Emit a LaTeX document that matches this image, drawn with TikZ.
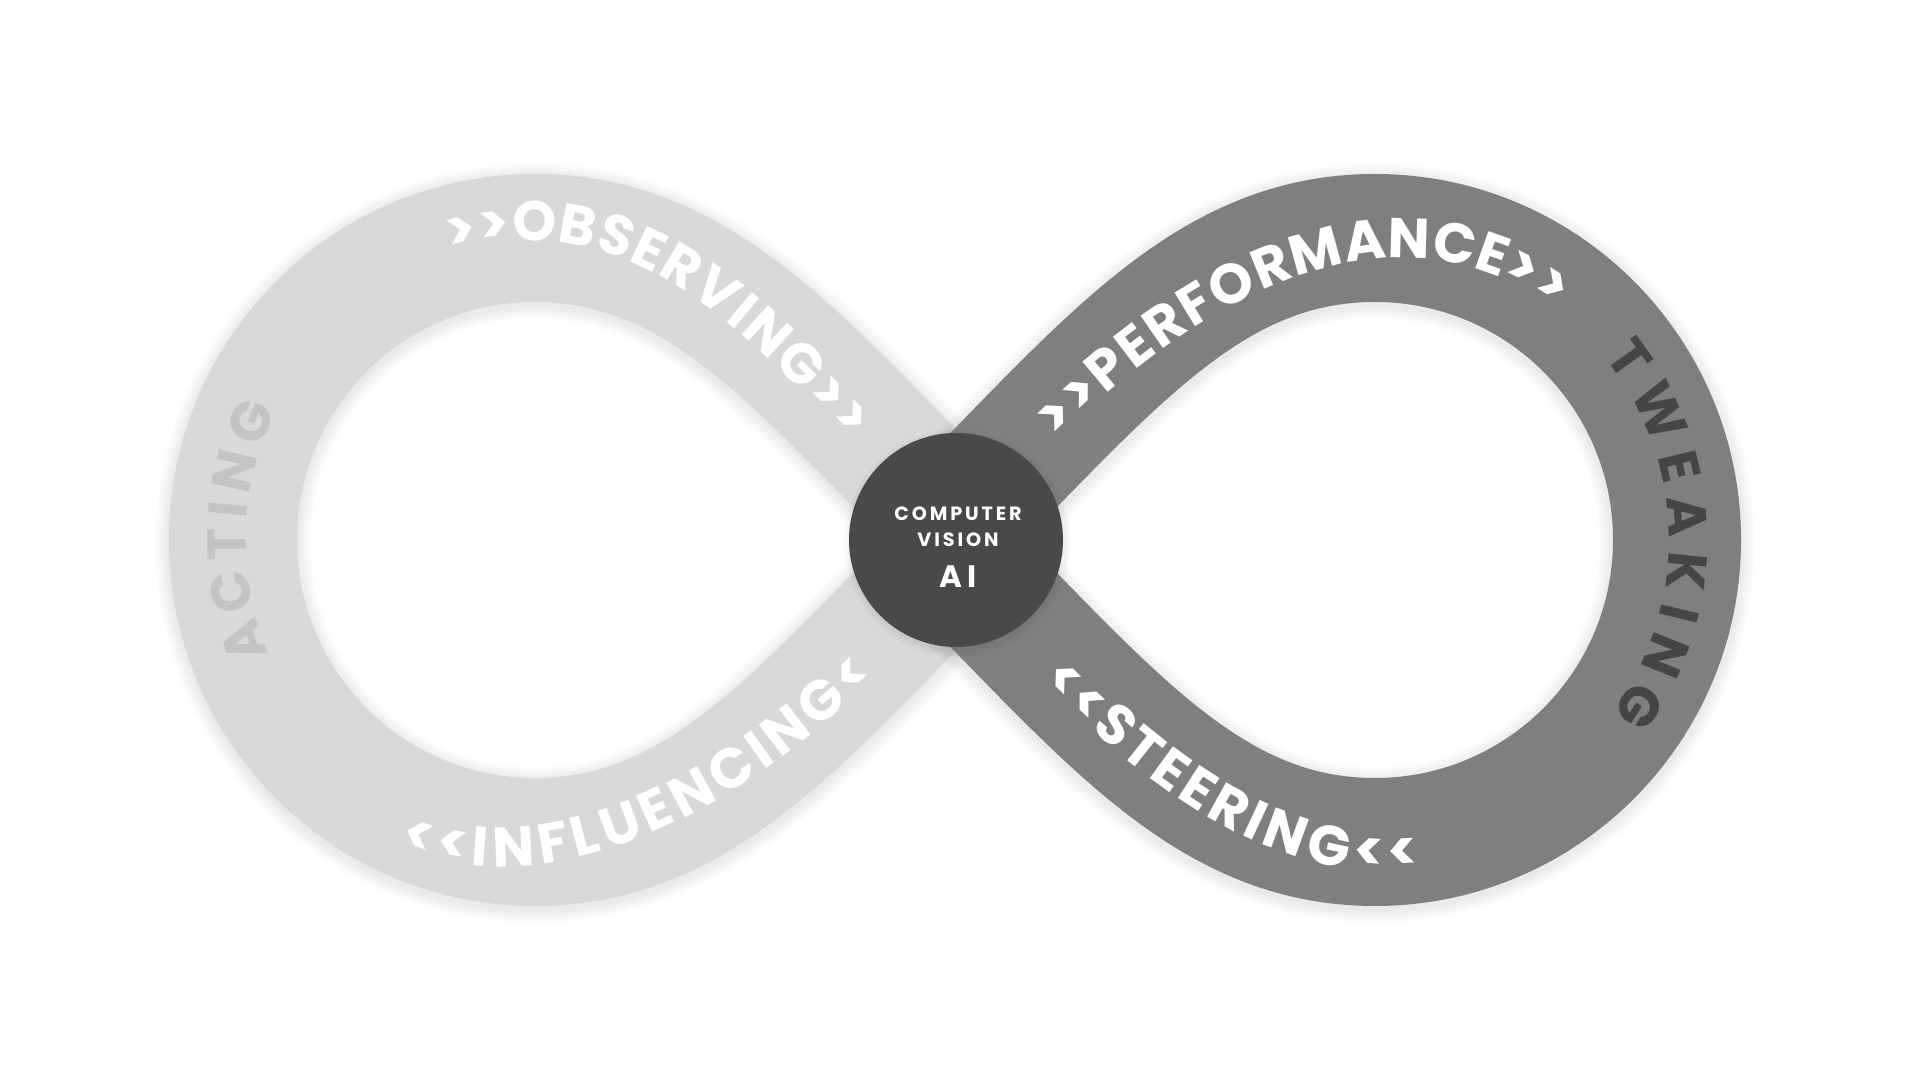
\documentclass[tikz,border=0pt]{standalone}
\usepackage{fontspec}
\newfontfamily\popfont{Poppins}
\newfontfamily\popsp{Poppins}[LetterSpace=15]
\usetikzlibrary{decorations.text}
\definecolor{bandlight}{HTML}{D9D9D9}
\definecolor{banddark}{HTML}{7F7F7F}
\definecolor{hubgray}{HTML}{494949}
\definecolor{actgray}{HTML}{C4C4C4}
\definecolor{tweakgray}{HTML}{454545}
\tikzset{
  band/.style={line width=64pt, line join=round},
  bandshadow/.style={black, opacity=0.012, line join=round},
  ringtext/.style={decorate, decoration={text along path, text align=fit to path, raise=-9.8pt, text color=white}},
  hubtext/.style={text=white, inner sep=0pt},
}
\def\leftloop{(975,540) .. controls (805,710) and (705,842) .. (535,842) arc[start angle=90, end angle=270, radius=302] .. controls (705,238) and (805,370) .. (975,540) -- cycle}
\def\rightloop{(935,540) .. controls (1105,710) and (1205,842) .. (1375,842) arc[start angle=90, end angle=-90, radius=302] .. controls (1205,238) and (1105,370) .. (935,540) -- cycle}
\def\ringfont{\popfont\bfseries\fontsize{28}{28}\selectfont}
\def\sidefont{\popfont\bfseries\fontsize{27.5}{27.5}\selectfont}
\begin{document}
\begin{tikzpicture}[x=0.5pt,y=0.5pt]
\useasboundingbox (0,0) rectangle (1920,1080);
\fill[white] (0,0) rectangle (1920,1080);
% left loop
\foreach \w in {66,68,70,72,74,76,78}{
  \draw[bandshadow, line width=\w pt, yshift=-1.5pt] \leftloop;
}
\draw[band, bandlight] \leftloop;
% right loop
\foreach \w in {66,68,70,72,74,76,78}{
  \draw[bandshadow, line width=\w pt, yshift=-1.5pt] \rightloop;
}
\draw[band, banddark] \rightloop;
% hub
\foreach \r in {108,110,112,114}{
  \fill[black, opacity=0.015] (957,537) circle[radius=\r];
}
\node[circle, fill=hubgray, minimum size=107pt, inner sep=0pt] (hub) at (956,540) {};
\node[hubtext, font=\popsp\bfseries\fontsize{9.6}{9.6}\selectfont] (cv1) at (958,566) {COMPUTER};
\node[hubtext, font=\popsp\bfseries\fontsize{9.6}{9.6}\selectfont] (cv2) at (958,540.5) {VISION};
\node[hubtext, font=\popsp\bfseries\fontsize{15.5}{15.5}\selectfont] (ai) at (958,503) {AI};
% ring labels
\path[ringtext, decoration={text={|\ringfont|>>OBSERVING>>}}]
  (446,846) .. controls (638,902) and (756,761) .. (864,653);
\path[ringtext, decoration={text={|\ringfont|<<INFLUENCING<}}]
  (405,251) .. controls (565,186) and (754,309) .. (862,417);
\path[ringtext, decoration={text={|\ringfont|>>PERFORMANCE>>}}]
  (1044,654) .. controls (1209,819) and (1401,904) .. (1566,788);
\path[ringtext, decoration={text={|\ringfont|<<STEERING<<}}]
  (1054,413) .. controls (1183,284) and (1297,217) .. (1418,230);
\path[ringtext, decoration={text color=actgray, raise=-9.6pt, text={|\sidefont|ACTING}}]
  ([shift={(535,540)}]203:308) arc[start angle=203, end angle=153.5, radius=308];
\path[ringtext, decoration={text color=tweakgray, raise=-9.6pt, text={|\sidefont|TWEAKING}}]
  ([shift={(1375,540)}]38.5:313) arc[start angle=38.5, end angle=-36, radius=313];
\end{tikzpicture}
\end{document}
